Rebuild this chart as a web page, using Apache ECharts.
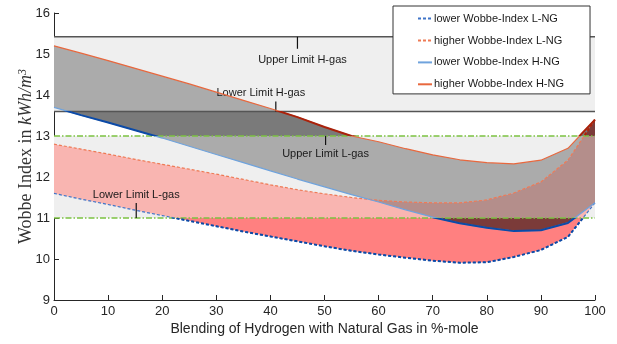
<!DOCTYPE html>
<html><head><meta charset="utf-8">
<script src="https://cdn.jsdelivr.net/npm/echarts@6/dist/echarts.min.js"></script>
<style>html,body{margin:0;padding:0;background:#fff}#c{width:617px;height:344px}</style>
</head><body><div id="c"></div>
<script>
// ---------- data ----------
const xValues   = [0,5,10,15,20,25,30,35,40,45,50,55,60,65,70,75,80,85,90,95,100];
const lowerLNG  = [11.60,11.46,11.33,11.19,11.06,10.93,10.80,10.67,10.55,10.43,10.31,10.20,10.11,10.03,9.96,9.91,9.92,10.05,10.22,10.54,11.37];
const higherLNG = [12.80,12.68,12.56,12.43,12.31,12.19,12.07,11.94,11.81,11.69,11.59,11.50,11.43,11.39,11.37,11.37,11.44,11.61,11.88,12.41,13.40];
const lowerHNG  = [13.70,13.51,13.33,13.14,12.95,12.75,12.55,12.35,12.15,11.95,11.76,11.57,11.39,11.20,11.02,10.87,10.76,10.68,10.70,10.88,11.37];
const higherHNG = [15.20,15.02,14.84,14.65,14.46,14.27,14.07,13.87,13.67,13.46,13.22,13.00,12.86,12.69,12.54,12.42,12.35,12.32,12.41,12.70,13.40];
const seriesNames = ['lower Wobbe-Index L-NG','higher Wobbe-Index L-NG','lower Wobbe-Index H-NG','higher Wobbe-Index H-NG'];
const limitNames  = ['Upper Limit H-gas','Lower Limit H-gas','Upper Limit L-gas','Lower Limit L-gas'];
const limitValues = [15.42, 13.6, 13.0, 11.0];
const xTicks = [0,10,20,30,40,50,60,70,80,90,100];
const yTicks = [9,10,11,12,13,14,15,16];

// ---------- geometry helpers (piecewise-linear) ----------
const X0 = xValues[0], X1 = xValues[xValues.length-1];
function toFn(v){ return xValues.map((x,i)=>[x,v[i]]); }
function cst(c){ return [[X0,c],[X1,c]]; }
function at(f,x){
  for(let i=0;i<f.length-1;i++){
    const a=f[i], b=f[i+1];
    if(x>=a[0] && x<=b[0]) return b[0]===a[0]?a[1]:a[1]+(b[1]-a[1])*(x-a[0])/(b[0]-a[0]);
  }
  return f[f.length-1][1];
}
function combine(f,g,op){
  const xs = Array.from(new Set(f.map(p=>p[0]).concat(g.map(p=>p[0])))).sort((a,b)=>a-b);
  const out=[];
  for(let i=0;i<xs.length;i++){
    const x=xs[i];
    if(i>0){
      const xp=xs[i-1];
      const d0=at(f,xp)-at(g,xp), d1=at(f,x)-at(g,x);
      if((d0<0&&d1>0)||(d0>0&&d1<0)){
        const xc=xp+(x-xp)*d0/(d0-d1);
        out.push([xc,at(f,xc)]);
      }
    }
    out.push([x,op(at(f,x),at(g,x))]);
  }
  return out;
}
function region(lower,upper,lo,hi){
  const L=combine(lower,cst(lo),Math.max);
  const U=combine(combine(upper,cst(hi),Math.min),L,Math.max);
  return U.concat(L.slice().reverse());
}
const [uHg,lHg,uLg,lLg] = limitValues;
const fLL=toFn(lowerLNG), fUL=toFn(higherLNG), fLH=toFn(lowerHNG), fUH=toFn(higherHNG);
const fLI=combine(fLH,fLL,Math.max), fUI=combine(fUH,fUL,Math.min);
const okBands  = [[lLg,uLg],[lHg,uHg]];
const badBands = [[-100,lLg],[uLg,lHg],[uHg,100]];
const C = {strip:'#efefef', hOk:'#ababab', hBad:'#7a7a7a', lOk:'#f9b5b1', lBad:'#ff8080', iOk:'#b48e8b', iBad:'#7b3b39'};
const fills=[];
okBands.forEach(b=>fills.push({poly:region(cst(b[0]),cst(b[1]),-100,100),color:C.strip}));
okBands.forEach(b=>fills.push({poly:region(fLH,fUH,b[0],b[1]),color:C.hOk}));
badBands.forEach(b=>fills.push({poly:region(fLH,fUH,b[0],b[1]),color:C.hBad}));
okBands.forEach(b=>fills.push({poly:region(fLL,fUL,b[0],b[1]),color:C.lOk}));
badBands.forEach(b=>fills.push({poly:region(fLL,fUL,b[0],b[1]),color:C.lBad}));
okBands.forEach(b=>fills.push({poly:region(fLI,fUI,b[0],b[1]),color:C.iOk}));
badBands.forEach(b=>fills.push({poly:region(fLI,fUI,b[0],b[1]),color:C.iBad}));

// annotation placement (x in data units, pixel offsets for leader & text)
const notes = [
  {x:45,   y:uHg, len:12,  tdy:11, tdx:5},
  {x:41,   y:lHg, len:-10, tdy:-8, tdx:-15},
  {x:50.2, y:uLg, len:9,   tdy:9,  tdx:0},
  {x:15.2, y:lLg, len:-15, tdy:-8, tdx:0}
];

const chart = echarts.init(document.getElementById('c'), null, {renderer:'canvas'});
const FONT='Liberation Sans';
const pair = (f)=>xValues.map((x,i)=>[x,f[i]]);
const curveData=[lowerLNG,higherLNG,lowerHNG,higherHNG];
const baseColors=['#3f74c8','#ee7a55','#6fa3dd','#e8683e'];
const dashed=[true,true,false,false];
const darkPieces=(dark)=>[
  {lt:lLg,color:dark},{gte:lLg,lt:uLg,color:'rgba(0,0,0,0)'},
  {gte:uLg,lt:lHg,color:dark},{gte:lHg,lte:uHg,color:'rgba(0,0,0,0)'},{gt:uHg,color:dark}];

const series=[];
series.push({type:'custom',silent:true,z:1,
  data:fills.map(r=>r.poly[0]),
  renderItem:(p,api)=>{const r=fills[p.dataIndex];
    return {type:'polygon',shape:{points:r.poly.map(q=>api.coord(q))},style:{fill:r.color}};}});
limitValues.forEach((v,i)=>{
  const green=i>=2;
  series.push({type:'line',name:limitNames[i],silent:true,symbol:'none',z:2,
    data:[[X0,v],[X1,v]],
    lineStyle:{color:green?'#7cc242':'#555555',width:1.5,type:green?[6,2,1.5,2]:'solid'}});
});
series.push({type:'custom',silent:true,z:3,
  data:notes.map(n=>[n.x,n.y]),
  renderItem:(p,api)=>{const n=notes[p.dataIndex];const pt=api.coord([n.x,n.y]);
    const ty=pt[1]+n.len+n.tdy;
    return {type:'group',children:[
      {type:'line',shape:{x1:pt[0],y1:pt[1],x2:pt[0],y2:pt[1]+n.len},style:{stroke:'#111',lineWidth:1.2}},
      {type:'text',style:{text:limitNames[p.dataIndex],x:pt[0]+n.tdx,y:ty,textAlign:'center',textVerticalAlign:'middle',
        fontFamily:FONT,fontSize:11,fill:'#1a1a1a'}}]};}});
curveData.forEach((d,i)=>{
  series.push({type:'line',name:seriesNames[i],symbol:'none',z:4,data:pair(d),
    color:baseColors[i],
    lineStyle:{color:baseColors[i],width:1.2,type:dashed[i]?[3,2]:'solid'}});
});
curveData.forEach((d,i)=>{
  series.push({type:'line',name:'_ov'+i,symbol:'none',z:5,data:pair(d),silent:true,
    lineStyle:{width:2,type:dashed[i]?[3,2]:'solid'}});
});
const ovBase=series.length-4;

chart.setOption({
  animation:false,
  backgroundColor:'#fff',
  grid:{left:54,right:22,top:13,bottom:44},
  xAxis:{type:'value',min:0,max:100,interval:10,
    axisLine:{lineStyle:{color:'#262626',width:1}},
    axisTick:{inside:true,length:5,lineStyle:{color:'#262626'}},
    axisLabel:{fontFamily:FONT,fontSize:13,color:'#262626',margin:5},
    splitLine:{show:false},
    name:'Blending of Hydrogen with Natural Gas in %-mole',nameLocation:'middle',nameGap:22,nameMoveOverlap:false,
    nameTextStyle:{fontFamily:FONT,fontSize:14,color:'#262626'}},
  yAxis:{type:'value',min:9,max:16,interval:1,
    axisLine:{show:true,lineStyle:{color:'#262626',width:1}},
    axisTick:{show:true,inside:true,length:5,lineStyle:{color:'#262626'}},
    axisLabel:{fontFamily:FONT,fontSize:13,color:'#262626',margin:4},
    splitLine:{show:false},
    name:'{r|Wobbe Index in }{i|kWh/m}{s|3}',nameLocation:'middle',nameGap:18,nameMoveOverlap:false,
    nameTextStyle:{rich:{
      r:{fontFamily:'Liberation Serif',fontSize:18,color:'#333'},
      i:{fontFamily:'Liberation Serif',fontStyle:'italic',fontSize:18,color:'#333'},
      s:{fontFamily:'Liberation Serif',fontStyle:'italic',fontSize:12,color:'#333',verticalAlign:'top',padding:[0,0,7,0]}}}},
  legend:{data:seriesNames,orient:'vertical',left:393,top:6,
    padding:[7,26,4,24],itemGap:10.7,itemWidth:14,itemHeight:14,
    itemStyle:{opacity:0},
    backgroundColor:'#fff',borderColor:'#333',borderWidth:1,borderRadius:0,
    textStyle:{fontFamily:FONT,fontSize:11,color:'#1a1a1a',padding:[0,0,0,-3]}},
  visualMap:[
    {show:false,type:'piecewise',dimension:1,seriesIndex:[ovBase,ovBase+2],pieces:darkPieces('#0c4aa6')},
    {show:false,type:'piecewise',dimension:1,seriesIndex:[ovBase+1,ovBase+3],pieces:darkPieces('#a8220c')}
  ],
  series:series
});
</script></body></html>
